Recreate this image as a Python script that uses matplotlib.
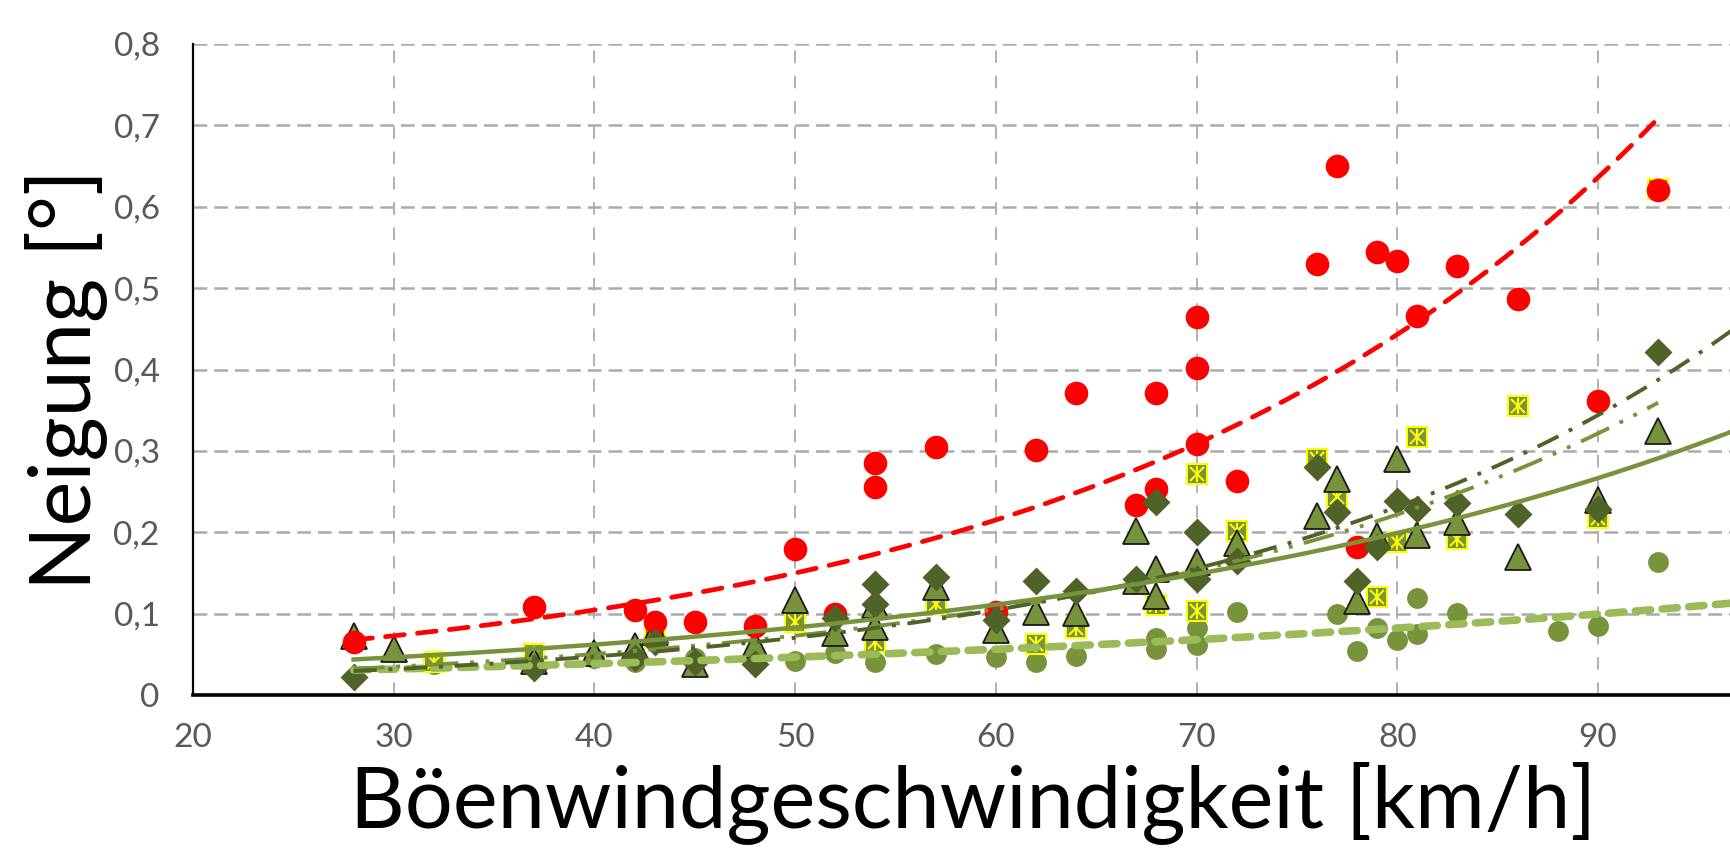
import numpy as np
import matplotlib
matplotlib.use("Agg")
import matplotlib.pyplot as plt

plt.rcParams['font.family'] = ['Lato', 'DejaVu Sans']

# Neigung vs. Böenwindgeschwindigkeit, five measurement series
red_x = [28, 37, 42, 43, 45, 48, 50, 52, 54, 54, 57, 60, 62, 64, 67, 68, 68, 70, 70, 70,
         72, 76, 77, 78, 79, 80, 81, 83, 86, 90, 93]
red_y = [0.065, 0.108, 0.105, 0.090, 0.090, 0.085, 0.180, 0.100, 0.285, 0.255,
         0.305, 0.102, 0.301, 0.371, 0.233, 0.253, 0.371, 0.464, 0.402, 0.308,
         0.263, 0.530, 0.650, 0.182, 0.544, 0.533, 0.466, 0.527, 0.487, 0.361, 0.621]

dia_x = [28, 37, 42, 43, 45, 48, 52, 54, 54, 57, 60, 62, 64, 67, 68, 70, 70, 72,
         76, 77, 78, 79, 80, 81, 83, 86, 90, 93]
dia_y = [0.022, 0.033, 0.045, 0.065, 0.040, 0.038, 0.095, 0.136, 0.112, 0.145,
         0.092, 0.140, 0.128, 0.142, 0.237, 0.200, 0.142, 0.165, 0.280, 0.225,
         0.140, 0.182, 0.238, 0.228, 0.236, 0.222, 0.228, 0.421]

tri_x = [28, 30, 37, 40, 42, 43, 45, 48, 50, 52, 54, 54, 57, 60, 62, 64, 67, 67,
         68, 68, 70, 72, 76, 77, 78, 79, 80, 81, 83, 86, 90, 93]
tri_y = [0.072, 0.057, 0.042, 0.052, 0.060, 0.078, 0.038, 0.062, 0.117, 0.076,
         0.110, 0.083, 0.133, 0.080, 0.102, 0.101, 0.202, 0.140, 0.155, 0.122,
         0.163, 0.187, 0.220, 0.265, 0.115, 0.195, 0.290, 0.197, 0.213, 0.170,
         0.240, 0.325]

sq_x = [32, 37, 43, 50, 54, 57, 62, 64, 68, 70, 70, 72, 76, 77, 79, 80, 81, 83,
        86, 90, 93]
sq_y = [0.040, 0.050, 0.070, 0.090, 0.065, 0.112, 0.063, 0.082, 0.110, 0.272,
        0.103, 0.201, 0.290, 0.243, 0.121, 0.188, 0.317, 0.192, 0.355, 0.218, 0.622]

cir_x = [32, 37, 40, 42, 45, 48, 50, 52, 54, 57, 60, 62, 64, 68, 68, 70, 70, 72,
         77, 78, 79, 80, 81, 81, 83, 88, 90, 93]
cir_y = [0.038, 0.040, 0.045, 0.040, 0.045, 0.050, 0.042, 0.052, 0.040, 0.050,
         0.047, 0.040, 0.048, 0.070, 0.056, 0.082, 0.062, 0.102, 0.099, 0.054,
         0.082, 0.068, 0.119, 0.075, 0.101, 0.079, 0.085, 0.164]

x_ticks = [20, 30, 40, 50, 60, 70, 80, 90]
y_ticks = [0, 0.1, 0.2, 0.3, 0.4, 0.5, 0.6, 0.7, 0.8]
y_tick_labels = ["0", "0,1", "0,2", "0,3", "0,4", "0,5", "0,6", "0,7", "0,8"]


def exp_trend(x, y, x0, x1):
    # exponential trendline like Excel (least squares on ln y)
    b, ln_a = np.polyfit(np.array(x, float), np.log(np.array(y, float)), 1)
    xs = np.linspace(x0, x1, 200)
    return xs, np.exp(ln_a + b * xs)


W, H = 1730, 851
fig = plt.figure(figsize=(W / 100, H / 100), dpi=100)
px_per_unit = 20.07
ax = fig.add_axes([193 / W, (H - 695) / H, 80 * px_per_unit / W, 651 / H])

# markers
ax.plot(cir_x, cir_y, 'o', ms=15, color='#77933C', mec='none', zorder=3)
ax.plot(sq_x, sq_y, 's', ms=14, mfc='#77933C', mec='#FFFF00', mew=1.5, zorder=4)
ax.plot(sq_x, sq_y, 'x', ms=10, color='#FFFF00', mew=1.5, zorder=4)
ax.plot(sq_x, sq_y, '|', ms=11, color='#FFFF00', mew=1.5, zorder=4)
ax.plot(tri_x, tri_y, '^', ms=19, mfc='#77933C', mec='#1a1a1a', mew=1.3, zorder=5)
ax.plot(red_x, red_y, 'o', ms=17, color='#FF0000', mec='none', zorder=6)
ax.plot(dia_x, dia_y, 'D', ms=14, color='#4F6228', mec='none', zorder=7)

# trendlines
xs, ys = exp_trend(cir_x, cir_y, 28, 100)
ax.plot(xs, ys, color='#9BBB59', lw=5.5, linestyle=(0, (2.0, 1.5)),
        dash_capstyle='round', zorder=8)
xs, ys = exp_trend(sq_x, sq_y, 28, 93)
ax.plot(xs, ys, color='#77933C', lw=2.8, linestyle=(0, (8, 3, 1, 3, 1, 3)), zorder=8)
xs, ys = exp_trend(dia_x, dia_y, 28, 100)
ax.plot(xs, ys, color='#4F6228', lw=2.8, linestyle=(0, (6, 3, 1, 3)), zorder=8)
xs, ys = exp_trend(tri_x, tri_y, 28, 100)
ax.plot(xs, ys, color='#77933C', lw=3.2, linestyle='-', zorder=8)
xs, ys = exp_trend(red_x, red_y, 28, 93)
ax.plot(xs, ys, color='#FF0000', lw=3.4, linestyle=(0, (4.0, 2.8)),
        dash_capstyle='round', zorder=9)

ax.set_xlim(20, 100)
ax.set_ylim(0, 0.8)
ax.set_xticks(x_ticks)
ax.set_yticks(y_ticks)
ax.set_yticklabels(y_tick_labels)
ax.tick_params(length=0, labelsize=24, labelcolor='#595959')
ax.tick_params(axis='y', pad=24)
ax.tick_params(axis='x', pad=20)

ax.yaxis.grid(True, color='#ABABAB', lw=1.8, linestyle=(0, (5.5, 2.8)))
ax.xaxis.grid(True, color='#ABABAB', lw=1.3, linestyle=(0, (7, 7)))
ax.set_axisbelow(True)

for side in ['top', 'right']:
    ax.spines[side].set_visible(False)
ax.spines['left'].set_linewidth(1.6)
ax.spines['bottom'].set_linewidth(2.6)

fig.text(973.5 / W, 1 - 827 / H, "Böenwindgeschwindigkeit [km/h]", fontsize=61,
         ha='center', va='baseline')
fig.text(90 / W, 1 - 380 / H, "Neigung [°]", fontsize=61, rotation=90,
         rotation_mode='anchor', ha='center', va='baseline')

fig.savefig("out.png", dpi=100)
